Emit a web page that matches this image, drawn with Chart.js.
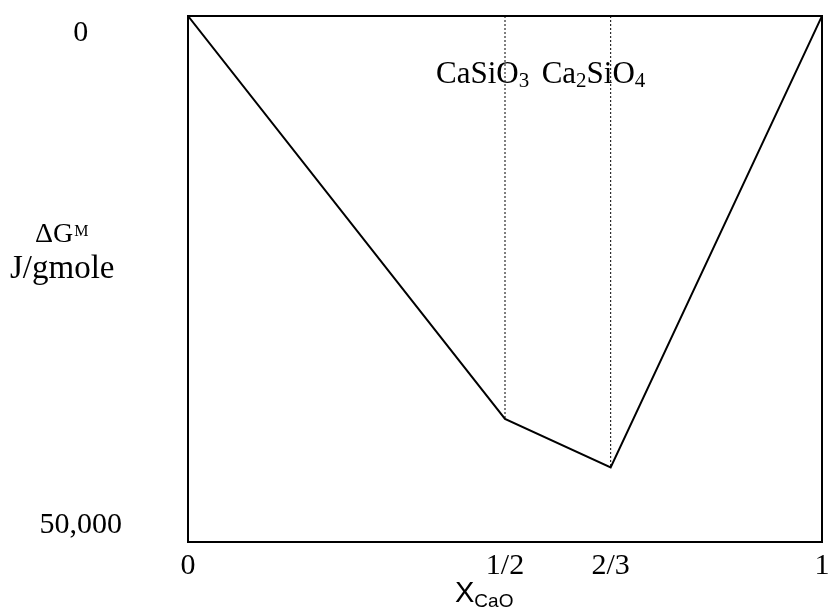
<!DOCTYPE html>
<html>
<head>
<meta charset="utf-8">
<script src="https://cdn.jsdelivr.net/npm/chart.js@4/dist/chart.umd.min.js"></script>
<style>
  body { margin: 0; background: #fff; }
  #wrap { width: 828px; height: 614px; }
</style>
</head>
<body>
<div id="wrap"><canvas id="chart" width="828" height="614"></canvas></div>
<script>
// free energy of mixing along the CaO-SiO2 join
const xCaO = [0, 1/2, 2/3, 1];
const deltaG = [0, -38300, -42900, 0];

const xTickValues = [0, 1/2, 2/3, 1];
const xTickLabels = ['0', '1/2', '2/3', '1'];
const yTickValues = [0, -50000];
const yTickLabels = [['', '0'], ['50,000', '']];

// compounds marked with a dotted line down to the curve
const compounds = ['CaSiO3', 'Ca2SiO4'];
const compoundX = [1/2, 2/3];
const compoundG = [-38300, -42900];

const serif = '"Liberation Serif", "Times New Roman", serif';
const sans = '"Liberation Sans", Arial, sans-serif';

// writes a formula, digits as subscripts
function drawFormula(ctx, text, x, y) {
  for (const ch of text) {
    if (/[0-9]/.test(ch)) {
      ctx.font = '21px ' + serif;
      ctx.fillText(ch, x, y + 4);
    } else {
      ctx.font = '31px ' + serif;
      ctx.fillText(ch, x, y);
    }
    x += ctx.measureText(ch).width;
  }
}

const decor = {
  id: 'decor',
  afterDatasetsDraw(chart) {
    const { ctx, chartArea: a, scales: { x, y } } = chart;
    ctx.save();
    ctx.strokeStyle = '#000';
    ctx.lineWidth = 2;
    ctx.strokeRect(a.left, a.top, a.right - a.left, a.bottom - a.top);

    ctx.fillStyle = '#000';
    ctx.textAlign = 'left';
    ctx.textBaseline = 'alphabetic';
    compounds.forEach((name, i) => {
      drawFormula(ctx, name, x.getPixelForValue(compoundX[i]) - 69, y.getPixelForValue(0) + 67);
    });

    // y axis title, written level
    ctx.font = '28px ' + serif;
    ctx.fillText('\u0394G', 35, 242);
    const w = ctx.measureText('\u0394G').width;
    ctx.font = '16px ' + serif;
    ctx.fillText('M', 35 + w + 1, 236);
    ctx.font = '33px ' + serif;
    ctx.fillText('J/gmole', 10, 278);

    // x axis title
    ctx.font = '29px ' + sans;
    ctx.fillText('X', 455, 602);
    const wx = ctx.measureText('X').width;
    ctx.font = '19px ' + sans;
    ctx.fillText('CaO', 455 + wx, 607);
    ctx.restore();
  }
};

const datasets = compounds.map((name, i) => ({
  label: name,
  data: [{ x: compoundX[i], y: 0 }, { x: compoundX[i], y: compoundG[i] }],
  borderColor: '#000',
  borderWidth: 1,
  borderDash: [2, 2],
  pointRadius: 0
}));
datasets.push({
  label: '\u0394G mix',
  data: xCaO.map((v, i) => ({ x: v, y: deltaG[i] })),
  borderColor: '#000',
  borderWidth: 2,
  pointRadius: 0,
  tension: 0
});

new Chart(document.getElementById('chart'), {
  type: 'line',
  data: { datasets: datasets },
  options: {
    responsive: false,
    animation: false,
    layout: { padding: { top: 16, right: 6, left: 0, bottom: 0 } },
    plugins: { legend: { display: false }, tooltip: { enabled: false } },
    scales: {
      x: {
        type: 'linear',
        min: 0,
        max: 1,
        grid: { display: false },
        border: { display: false },
        afterBuildTicks: (scale) => { scale.ticks = xTickValues.map(v => ({ value: v })); },
        afterFit: (scale) => { scale.height = 72; scale.paddingLeft = 0; scale.paddingRight = 0; },
        ticks: {
          autoSkip: false,
          maxRotation: 0,
          padding: -2,
          color: '#000',
          font: { family: serif, size: 30 },
          callback: (v) => xTickLabels[xTickValues.indexOf(v)]
        }
      },
      y: {
        type: 'linear',
        min: -50000,
        max: 0,
        grid: { display: false },
        border: { display: false },
        afterBuildTicks: (scale) => { scale.ticks = yTickValues.map(v => ({ value: v })); },
        afterFit: (scale) => { scale.width = 188; scale.paddingTop = 0; scale.paddingBottom = 0; },
        ticks: {
          autoSkip: false,
          crossAlign: 'center',
          padding: 58,
          color: '#000',
          font: { family: serif, size: 30, lineHeight: '34px' },
          callback: (v) => yTickLabels[yTickValues.indexOf(v)]
        }
      }
    }
  },
  plugins: [decor]
});
</script>
</body>
</html>
